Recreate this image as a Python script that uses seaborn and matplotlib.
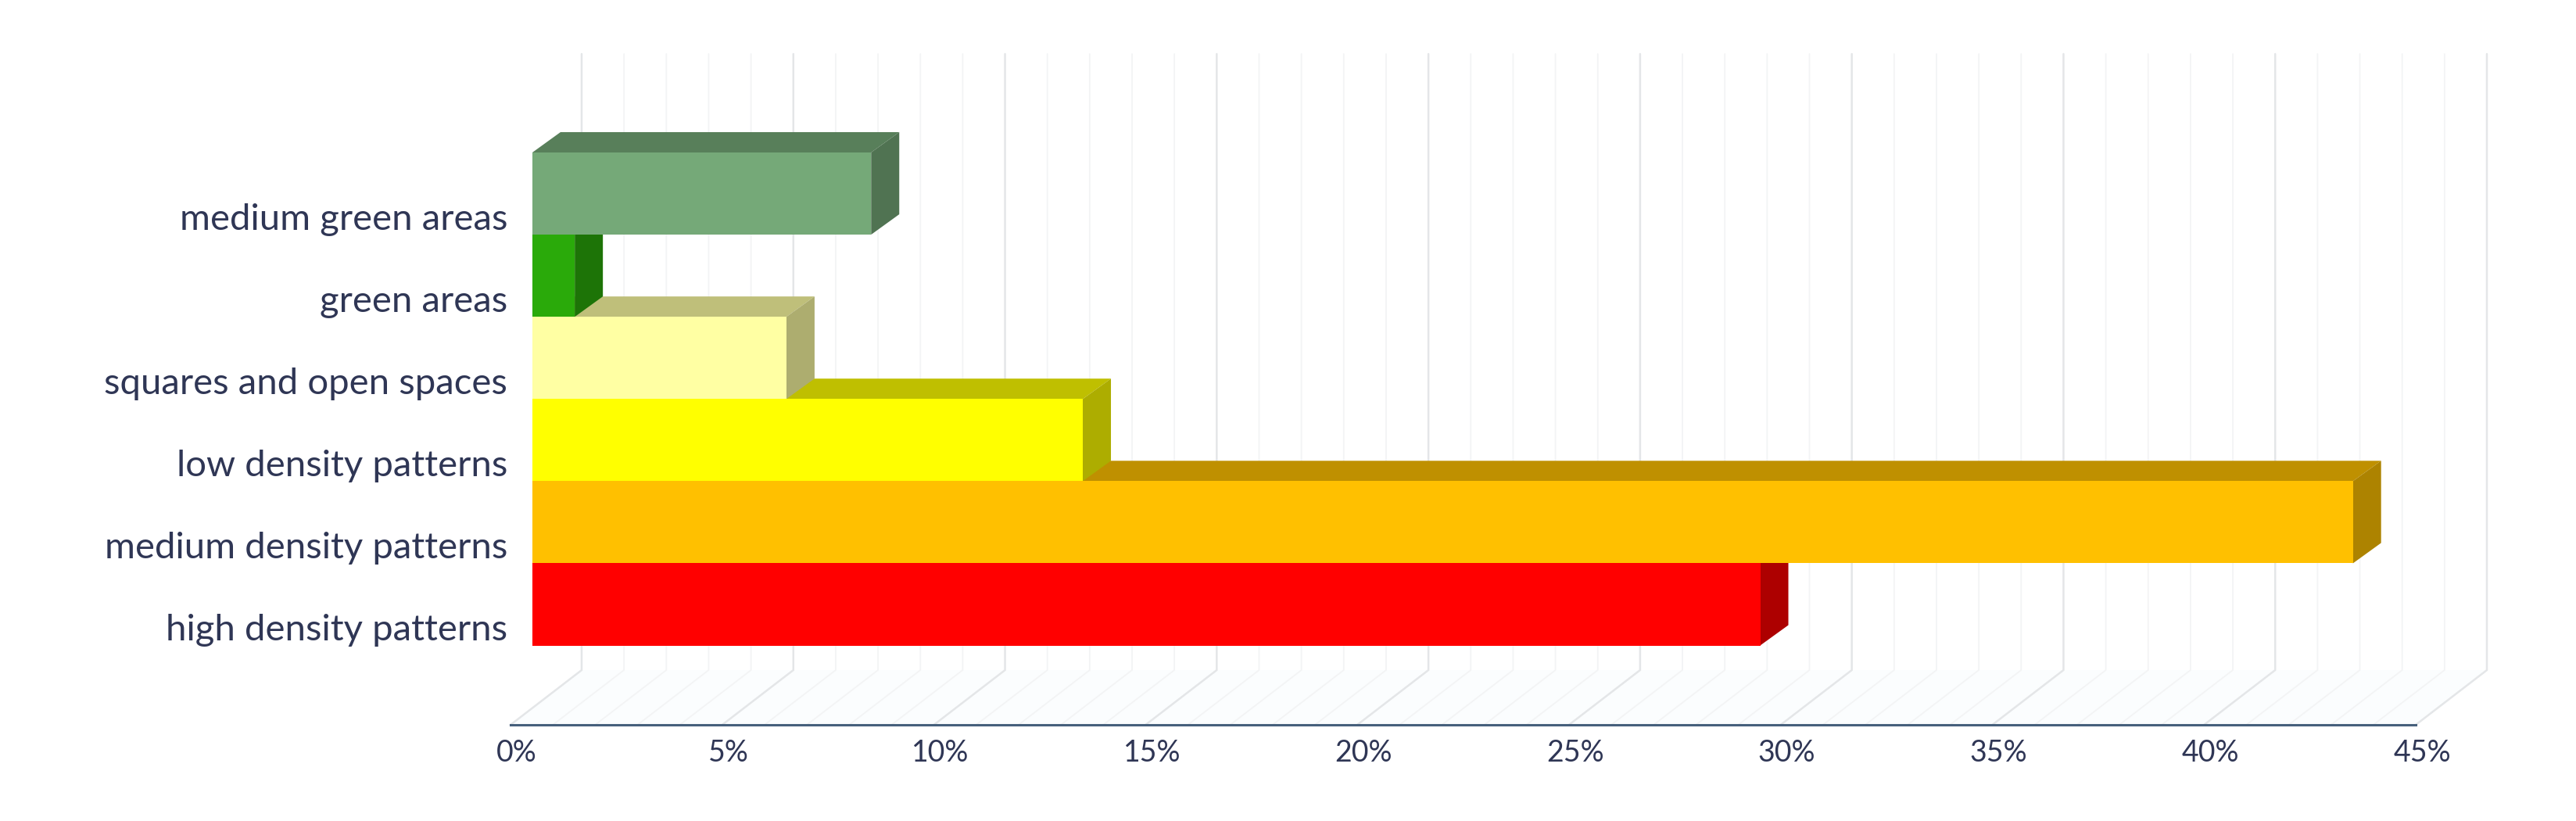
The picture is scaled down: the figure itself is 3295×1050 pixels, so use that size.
import matplotlib
matplotlib.use('Agg')
import matplotlib.pyplot as plt
import matplotlib.colors as mcolors
from matplotlib.patches import Polygon
from matplotlib.transforms import ScaledTranslation
import seaborn as sns
import pandas as pd

categories = ['medium green areas', 'green areas', 'squares and open spaces',
              'low density patterns', 'medium density patterns', 'high density patterns']
values = [8, 1, 6, 13, 43, 29]
bar_colors = ['#75a978', '#2aaa0a', '#ffffa3', '#ffff00', '#ffc000', '#ff0000']
major_ticks = [0, 5, 10, 15, 20, 25, 30, 35, 40, 45]
tick_labels = ['0%', '5%', '10%', '15%', '20%', '25%', '30%', '35%', '40%', '45%']

W, H = 3295, 1050
PX = 2437 / 45  # pixels per percent


def shade(color, k):
    r, g, b = mcolors.to_rgb(color)
    return (r * k, g * k, b * k)


def px_axes(fig, left, right, top, bottom):
    return fig.add_axes([left / W, 1 - bottom / H, (right - left) / W, (bottom - top) / H])


sns.set_theme(style='white')
plt.rcParams['font.family'] = ['Lato', 'DejaVu Sans']
text_color = '#2f3655'

fig = plt.figure(figsize=(W / 100, H / 100), dpi=100, facecolor='white')

# floor + back wall, drawn behind the bars
floor = px_axes(fig, 653, 3090, 69, 927)
floor.set_xlim(0, 45)
floor.set_ylim(0, 1)
floor.patch.set_alpha(0)
wall_dx = 91 / PX
wall_dy = 70 / 858
floor.add_patch(Polygon([(0, 0), (wall_dx, wall_dy), (45 + wall_dx, wall_dy), (45, 0)],
                        closed=True, fc='#fbfdfe', ec='none', clip_on=False, zorder=0))
for t in range(46):
    is_major = t % 5 == 0
    c = '#e4e6e8' if is_major else '#f3f4f5'
    lw = 1.8 if is_major else 1.3
    floor.plot([t, t + wall_dx, t + wall_dx], [0, wall_dy, 1], color=c, lw=lw,
               clip_on=False, zorder=1, solid_joinstyle='miter')
for s in ['top', 'left', 'right']:
    floor.spines[s].set_visible(False)
floor.spines['bottom'].set_color('#46607c')
floor.spines['bottom'].set_linewidth(2.2)
floor.set_yticks([])
floor.set_xticks(major_ticks)
floor.set_xticklabels(tick_labels)
floor.tick_params(axis='x', length=6, width=1.4, color='#46607c', pad=7,
                  labelsize=27, labelcolor=text_color)
for lab in floor.get_xticklabels():
    lab.set_transform(lab.get_transform() + ScaledTranslation(8 / 100, 0, fig.dpi_scale_trans))

# bars
df = pd.DataFrame({'category': categories, 'value': values})
ax = px_axes(fig, 681, 681 + 2437, 195, 825.5)
ax.patch.set_alpha(0)
sns.barplot(data=df, x='value', y='category', hue='category', order=categories,
            hue_order=categories, palette=bar_colors, width=1.0, saturation=1,
            legend=False, ax=ax, zorder=5, linewidth=0)
ax.set_xlim(0, 45)
ax.set_ylim(5.5, -0.5)
ax.set_xlabel('')
ax.set_ylabel('')
ax.set_xticks([])
sns.despine(ax=ax, left=True, bottom=True)
ax.tick_params(axis='y', length=0, pad=23, labelsize=34, labelcolor=text_color)
# the labels sit low against their bars in the original
for lab in ax.get_yticklabels():
    lab.set_transform(lab.get_transform() + ScaledTranslation(0, -29 / 100, fig.dpi_scale_trans))

# depth faces, lowest bar first so the upper ones lie over it
dx = 36 / PX
dy = 26 / 105
for i in reversed(range(len(values))):
    v = values[i]
    top, bottom = i - 0.5, i + 0.5
    ax.add_patch(Polygon([(0, top), (dx, top - dy), (v + dx, top - dy), (v, top)], closed=True,
                         fc=shade(bar_colors[i], 0.75), ec='none', clip_on=False,
                         zorder=2 + (len(values) - i) * 0.1))
    ax.add_patch(Polygon([(v, top), (v + dx, top - dy), (v + dx, bottom - dy), (v, bottom)], closed=True,
                         fc=shade(bar_colors[i], 0.68), ec='none', clip_on=False,
                         zorder=2 + (len(values) - i) * 0.1))

fig.savefig('out.png', dpi=100, facecolor='white')
